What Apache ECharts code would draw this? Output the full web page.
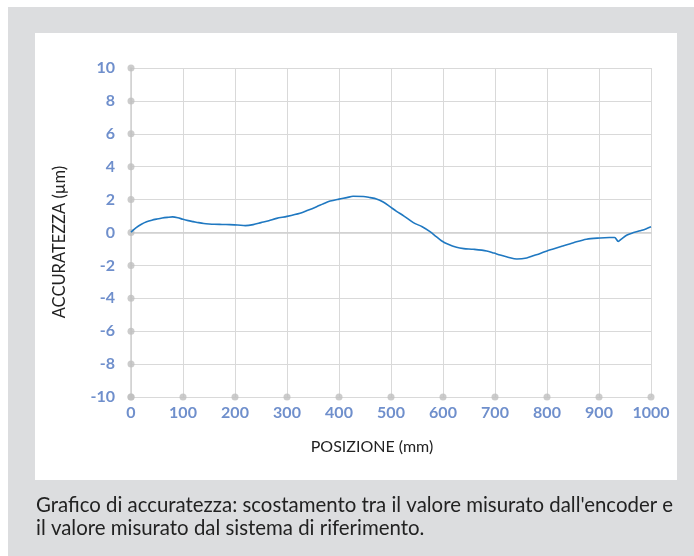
<!DOCTYPE html>
<html>
<head>
<meta charset="utf-8">
<script src="https://cdn.jsdelivr.net/npm/echarts@6/dist/echarts.min.js"></script>
<style>
html,body{margin:0;padding:0;background:#fff;}
#c{width:694px;height:556px;}
</style>
</head>
<body>
<div id="c"></div>
<script>
var xTicks = [0,100,200,300,400,500,600,700,800,900,1000];
var yTicks = [-10,-8,-6,-4,-2,0,2,4,6,8,10];
var posX = [0,10,20,30,40,50,60,70,80,90,100,110,120,130,140,150,160,175,190,205,220,235,250,265,280,300,325,340,357,370,383,400,415,427,447,460,472,485,498,510,525,543,560,575,587,597,610,626,640,658,684,698,710,725,742,761,775,787,800,812,830,851,876,902,920,930,937,943,953,965,979,990,1000];
var accY = [0.02,0.3,0.5,0.65,0.75,0.82,0.88,0.92,0.95,0.9,0.8,0.72,0.66,0.6,0.55,0.52,0.5,0.49,0.48,0.46,0.42,0.48,0.6,0.72,0.86,0.98,1.17,1.35,1.57,1.75,1.91,2.03,2.12,2.2,2.19,2.12,2.04,1.85,1.57,1.3,1.0,0.6,0.35,0.05,-0.25,-0.5,-0.72,-0.9,-0.98,-1.02,-1.12,-1.25,-1.37,-1.5,-1.61,-1.55,-1.4,-1.27,-1.12,-1.0,-0.82,-0.62,-0.41,-0.33,-0.3,-0.3,-0.54,-0.4,-0.17,-0.02,0.11,0.22,0.35];
var xName = 'POSIZIONE (mm)';
var yName = 'ACCURATEZZA (µm)';
var caption1 = "Grafico di accuratezza: scostamento tra il valore misurato dall'encoder e";
var caption2 = 'il valore misurato dal sistema di riferimento.';

var lineData = posX.map(function(x,i){return [x, accY[i]];});
var dotData = yTicks.map(function(v){return [0, v];}).concat(xTicks.map(function(v){return [v, -10];}));

var chart = echarts.init(document.getElementById('c'), null, {renderer:'canvas'});
var labelStyle = {color:'#6f8fcc', fontWeight:'bold', fontSize:16, fontFamily:'Lato', formatter:function(v){return String(v);}};
chart.setOption({
  animation:false,
  graphic:[
    {type:'rect', z:-10, shape:{x:8,y:7,width:686,height:549}, style:{fill:'#dcdddf'}},
    {type:'rect', z:-9, shape:{x:35,y:33,width:642,height:447}, style:{fill:'#ffffff'}},
    {type:'text', x:36, y:505, style:{text:caption1, fill:'#222', font:'20.4px Lato', verticalAlign:'middle'}},
    {type:'text', x:36, y:528, style:{text:caption2, fill:'#222', font:'20.4px Lato', verticalAlign:'middle'}},
    {type:'text', x:372, y:447, style:{text:xName, fill:'#222', font:'16px Lato', align:'center', verticalAlign:'middle'}},
    {type:'text', x:60, y:242, rotation:Math.PI/2, style:{text:yName, fill:'#222', font:'16.5px Lato', align:'center', verticalAlign:'middle'}}
  ],
  grid:{left:131, right:43, top:68, bottom:159, containLabel:false},
  xAxis:{type:'value', min:0, max:1000, interval:100,
    axisLine:{show:true, lineStyle:{color:'#d0d0d0', width:1.5}},
    axisTick:{show:false},
    splitLine:{show:true, lineStyle:{color:'#d9d9d9', width:1}},
    axisLabel:Object.assign({margin:8}, labelStyle)},
  yAxis:{type:'value', min:-10, max:10, interval:2,
    axisLine:{show:true, onZero:false, lineStyle:{color:'#d0d0d0', width:1.5}},
    axisTick:{show:false},
    splitLine:{show:true, lineStyle:{color:'#d9d9d9', width:1}},
    axisLabel:Object.assign({margin:16}, labelStyle)},
  series:[
    {type:'scatter', data:dotData, symbol:'circle', symbolSize:7, itemStyle:{color:'#bfbfbf'}, silent:true, z:2},
    {type:'line', data:lineData, showSymbol:false, smooth:0.3, lineStyle:{color:'#1f78c1', width:1.6}, z:3}
  ]
});
</script>
</body>
</html>
